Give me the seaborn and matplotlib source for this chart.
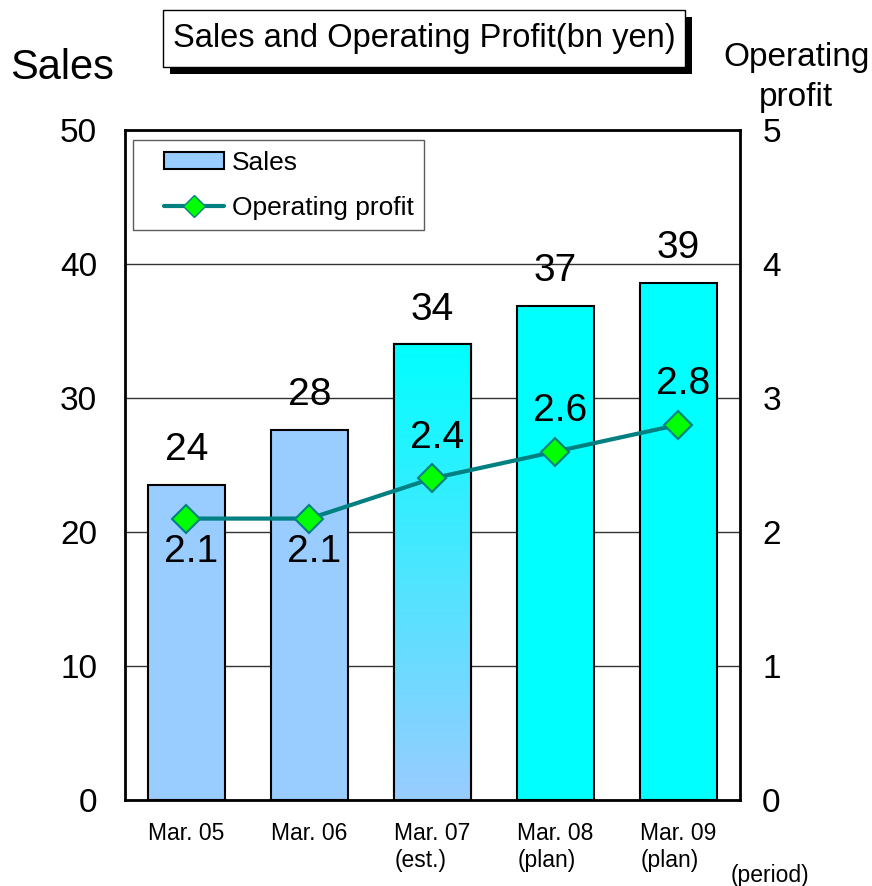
import numpy as np
import matplotlib
matplotlib.use("Agg")
import matplotlib.pyplot as plt
import matplotlib.patheffects as pe
from matplotlib.patches import Patch, Rectangle
from matplotlib.lines import Line2D
from matplotlib.legend_handler import HandlerPatch, HandlerLine2D
import seaborn as sns

periods = ["Mar. 05", "Mar. 06", "Mar. 07\n(est.)", "Mar. 08\n(plan)", "Mar. 09\n(plan)"]
sales = [23.5, 27.6, 34.0, 36.9, 38.6]
sales_labels = ["24", "28", "34", "37", "39"]
profit = [2.1, 2.1, 2.4, 2.6, 2.8]
profit_labels = ["2.1", "2.1", "2.4", "2.6", "2.8"]
profit_label_side = ["below", "below", "above", "above", "above"]

light_blue = "#99CCFF"
cyan = "#00FFFF"
teal = "#008080"
bar_colors = [light_blue, light_blue, light_blue, cyan, cyan]

sns.set_theme(style="white")
plt.rcParams["font.family"] = ["Liberation Sans", "DejaVu Sans"]
plt.rcParams["text.color"] = "black"
plt.rcParams["xtick.color"] = "black"
plt.rcParams["ytick.color"] = "black"


# legend handlers that leave some empty room left of the key
class ShiftPatch(HandlerPatch):
    def create_artists(self, legend, orig, xd, yd, width, height, fontsize, trans):
        off = width * 0.26
        return super().create_artists(legend, orig, xd - off, yd, width - off,
                                      height, fontsize, trans)


class ShiftLine(HandlerLine2D):
    def create_artists(self, legend, orig, xd, yd, width, height, fontsize, trans):
        off = width * 0.26
        return super().create_artists(legend, orig, xd - off, yd, width - off,
                                      height, fontsize, trans)


fig = plt.figure(figsize=(8.72, 8.86), dpi=100)
ax = fig.add_axes([0.1433, 0.0971, 0.7053, 0.7562])

sns.barplot(x=periods, y=sales, hue=periods, palette=bar_colors, legend=False,
            width=0.62, edgecolor="black", linewidth=1.5, saturation=1, ax=ax)
bars = sorted(ax.patches, key=lambda p: p.get_x())

# value labels on top of the bars
for b, lab in zip(bars, sales_labels):
    ax.annotate(lab, (b.get_x() + b.get_width() / 2, b.get_height()),
                xytext=(0, 12), textcoords="offset points",
                ha="center", va="bottom", fontsize=28)

# gradient fill for the estimate bar (cyan at top fading to light blue)
est = bars[2]
x0, y0 = est.get_x(), est.get_y()
w, h = est.get_width(), est.get_height()
grad = np.linspace(0, 1, 256).reshape(-1, 1)
cmap = matplotlib.colors.LinearSegmentedColormap.from_list("g", [light_blue, cyan])
im = ax.imshow(grad, extent=[x0, x0 + w, y0, y0 + h], origin="lower", cmap=cmap,
               aspect="auto", zorder=est.get_zorder() + 0.1)
im.set_clip_path(est)
ax.add_patch(plt.Rectangle((x0, y0), w, h, fill=False, edgecolor="black",
                           linewidth=1.5, zorder=est.get_zorder() + 0.2))

ax.set_xlim(-0.5, 4.5)
ax.set_ylim(0, 50)
ax.set_yticks(range(0, 51, 10))
ax.yaxis.grid(True, color="#333333", linewidth=1)
ax.set_axisbelow(True)
ax.tick_params(axis="y", labelsize=24, length=0, pad=20)
ax.tick_params(axis="x", labelsize=16.5, length=0, pad=16)
for t in ax.get_xticklabels():
    t.set_multialignment("left")
ax.set_xlabel("")
ax.set_ylabel("")
for s in ax.spines.values():
    s.set_color("black")
    s.set_linewidth(2)

ax2 = ax.twinx()
sns.lineplot(x=np.arange(len(profit)), y=profit, color=teal, linewidth=3,
             marker="D", markersize=14, markerfacecolor="#00FF00",
             markeredgecolor=teal, markeredgewidth=1.5, ax=ax2)
ax2.set_ylim(0, 5)
ax2.set_yticks(range(0, 6))
ax2.tick_params(axis="y", labelsize=24, length=0, pad=16)
ax2.grid(False)
ax2.set_ylabel("")
for s in ax2.spines.values():
    s.set_visible(False)

for i, (v, lab, side) in enumerate(zip(profit, profit_labels, profit_label_side)):
    dy = -24 if side == "below" else 29
    ax2.annotate(lab, (i, v), xytext=(3, dy), textcoords="offset points",
                 ha="center", va="center", fontsize=28)

sales_key = Patch(facecolor=light_blue, edgecolor="black", linewidth=1.5)
profit_key = Line2D([], [], color=teal, linewidth=3, marker="D", markersize=11,
                    markerfacecolor="#00FF00", markeredgecolor=teal)
leg = ax2.legend([sales_key, profit_key], ["Sales", "Operating profit"],
                 loc="upper left", bbox_to_anchor=(0.013, 0.985), borderaxespad=0,
                 fontsize=19, frameon=True, fancybox=False, edgecolor="#333333",
                 handlelength=3.05, handleheight=0.6, borderpad=0.4,
                 labelspacing=0.8, handletextpad=0.3,
                 handler_map={Patch: ShiftPatch(), Line2D: ShiftLine()})
leg.get_frame().set_linewidth(1)

# title box with a solid drop shadow
box = Rectangle((0.1869, 0.9244), 0.5986, 0.0643, transform=fig.transFigure,
                facecolor="white", edgecolor="black", linewidth=1)
box.set_path_effects([pe.SimplePatchShadow(offset=(5, -5), shadow_rgbFace="black",
                                           alpha=1), pe.Normal()])
fig.patches.append(box)
fig.text(0.4862, 0.9565, "Sales and Operating Profit(bn yen)", ha="center",
         va="center", fontsize=23.5)

fig.text(0.0711, 0.923, "Sales", ha="center", va="center", fontsize=30)
fig.text(0.913, 0.913, "Operating\nprofit", ha="center", va="center",
         fontsize=24, linespacing=1.38)
fig.text(0.883, 0.012, "(period)", ha="center", va="center", fontsize=16.5)

fig.savefig("out.png", dpi=100)
